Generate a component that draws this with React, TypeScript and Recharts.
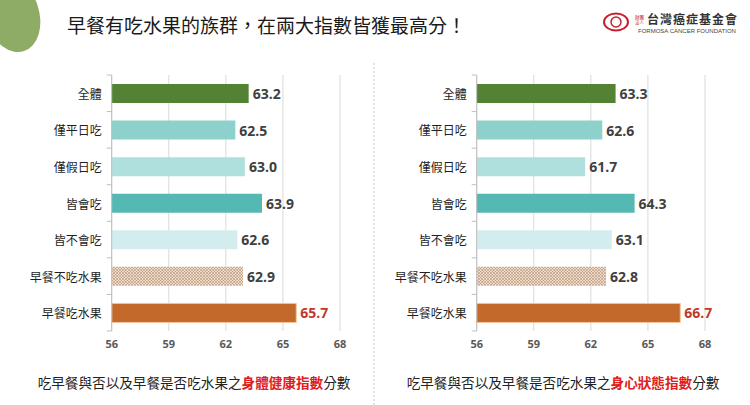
import React from "react";
import { BarChart, Bar, XAxis, YAxis, CartesianGrid, LabelList, Cell } from "recharts";

const categories = ["全體", "僅平日吃", "僅假日吃", "皆會吃", "皆不會吃", "早餐不吃水果", "早餐吃水果"];
const bodyScores = [63.2, 62.5, 63.0, 63.9, 62.6, 62.9, 65.7];
const mindScores = [63.3, 62.6, 61.7, 64.3, 63.1, 62.8, 66.7];
const xTicks = [56, 59, 62, 65, 68];
const barColors = ["#548235", "#8ed1cc", "#b0e0dd", "#55b9b3", "#d3edef", "url(#hatch)", "#c2692b"];

const CJK = '"Noto Sans CJK TC", "Noto Sans", sans-serif';
const CHART_W = 375;
const CHART_H = 360;
const PLOT_TOP = 75;
const PLOT_BOTTOM = 331;
const BAND = (PLOT_BOTTOM - PLOT_TOP) / categories.length;

const CategoryTick = (props: any) => {
  const { x, y, payload, index } = props;
  return (
    <g>
      <line x1={x} x2={x - 5} y1={y - BAND / 2} y2={y - BAND / 2} stroke="#bfbfbf" />
      {index === categories.length - 1 && (
        <line x1={x} x2={x - 5} y1={y + BAND / 2} y2={y + BAND / 2} stroke="#bfbfbf" />
      )}
      <text x={x - 10} y={y} textAnchor="end" dominantBaseline="central"
            style={{ fontSize: "12px", fontWeight: 400, fontFamily: CJK, fill: "#1f1f1f" }}>{payload.value}</text>
    </g>
  );
};

const ValueLabel = (props: any) => {
  const { x, y, width, height, value, index } = props;
  const last = index === categories.length - 1;
  return (
    <text x={x + width + 4} y={y + height / 2} dominantBaseline="central"
          fontSize={14} fontWeight={700} fontFamily='"Open Sans", sans-serif'
          fill={last ? "#c0392b" : "#404040"}>{Number(value).toFixed(1)}</text>
  );
};

function ScoreChart({ scores, left }: { scores: number[]; left: number }) {
  const data = categories.map((name, i) => ({ name, score: scores[i] }));
  return (
    <div style={{ position: "absolute", left, top: 0 }}>
      <BarChart width={CHART_W} height={CHART_H} data={data} layout="vertical"
                margin={{ top: PLOT_TOP, right: 35, left: 11.7, bottom: CHART_H - PLOT_BOTTOM - 20 }}>
        <defs>
          <pattern id="hatch" width="3" height="3" patternUnits="userSpaceOnUse">
            <rect width="3" height="3" fill="#ecdccb" />
            <path d="M0,3 L3,0 M0,0 L3,3" stroke="#b89274" strokeWidth="0.6" />
          </pattern>
        </defs>
        <CartesianGrid horizontal={false} stroke="#d9d9d9" />
        <XAxis type="number" domain={[56, 68]} ticks={xTicks} axisLine={false} tickLine={false}
               height={20} tickMargin={3}
               tick={{ fontSize: 11, fill: "#595959", fontWeight: 700, fontFamily: '"Open Sans", sans-serif' }} />
        <YAxis type="category" dataKey="name" width={100} tickSize={0} tickMargin={0}
               axisLine={{ stroke: "#bfbfbf" }} tickLine={false} tick={<CategoryTick />} interval={0} />
        <Bar dataKey="score" barSize={19} isAnimationActive={false}>
          {data.map((d, i) => (
            <Cell key={d.name} fill={barColors[i]}
                  stroke={i === categories.length - 1 ? "#f2c39a" : "none"} strokeWidth={1} />
          ))}
          <LabelList dataKey="score" content={<ValueLabel />} />
        </Bar>
      </BarChart>
    </div>
  );
}

function Caption({ center, highlight }: { center: number; highlight: string }) {
  return (
    <div style={{ position: "absolute", left: center - 200, width: 400, top: 372, textAlign: "center",
                  fontFamily: CJK, fontSize: 13.6, color: "#222", lineHeight: "20px" }}>
      吃早餐與否以及早餐是否吃水果之<span style={{ color: "#e02020", fontWeight: 700 }}>{highlight}</span>分數
    </div>
  );
}

export default function App() {
  return (
    <div style={{ position: "absolute", left: 0, top: 0, width: 750, height: 405, background: "#fff", overflow: "hidden" }}>
      <svg width={750} height={405} style={{ position: "absolute", left: 0, top: 0 }}>
        <ellipse cx={12} cy={14} rx={27} ry={39} fill="#8fac67" transform="rotate(-18 12 14)" />
        <line x1={374} x2={374} y1={63} y2={405} stroke="#c8c8c8" strokeDasharray="2 2" />
        <g>
          <ellipse cx={616} cy={22} rx={12} ry={8.5} fill="none" stroke="#c8202c" strokeWidth={2} />
          <ellipse cx={616} cy={22} rx={5} ry={5} fill="none" stroke="#c8202c" strokeWidth={1.5} />
          <text x={635} y={19} fontSize={4.5} fill="#c8202c" fontFamily={CJK}>財團</text>
          <text x={635} y={24} fontSize={4.5} fill="#c8202c" fontFamily={CJK}>法人</text>
          <text x={647} y={24} fontSize={12} fontWeight={700} fill="#333" fontFamily={CJK} letterSpacing={1}>台灣癌症基金會</text>
          <text x={638} y={33} fontSize={6} fill="#444" fontFamily='"Liberation Sans", sans-serif'>FORMOSA CANCER FOUNDATION</text>
        </g>
      </svg>
      <div style={{ position: "absolute", left: 67, top: 12, fontFamily: CJK, fontSize: 19, color: "#1a1a1a", lineHeight: "26px", whiteSpace: "nowrap" }}>
        早餐有吃水果的族群，在兩大指數皆獲最高分！
      </div>
      <ScoreChart scores={bodyScores} left={0} />
      <ScoreChart scores={mindScores} left={365} />
      <Caption center={194} highlight="身體健康指數" />
      <Caption center={563} highlight="身心狀態指數" />
    </div>
  );
}
